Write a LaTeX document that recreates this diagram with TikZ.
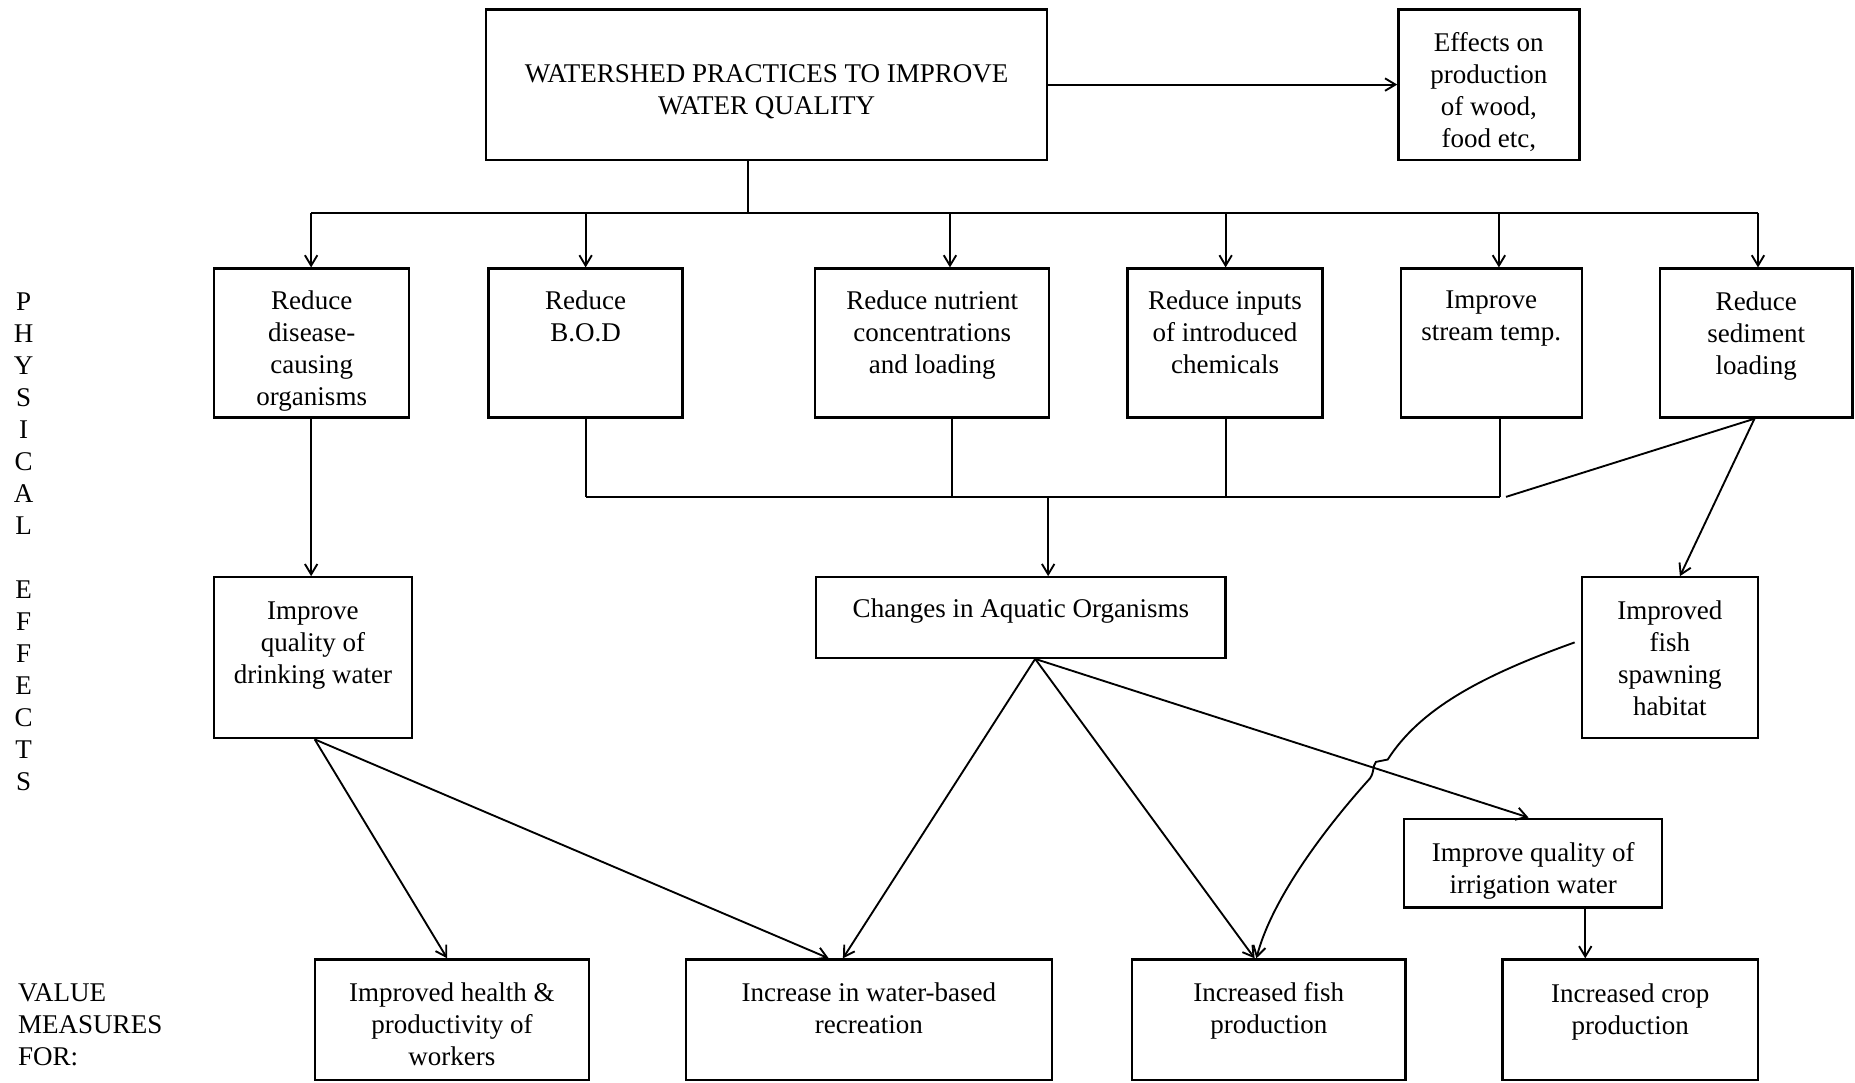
\documentclass[tikz,border=0pt]{standalone}
\usepackage{fontspec}
\setmainfont{Liberation Serif}
\usetikzlibrary{arrows.meta}
\begin{document}
\begin{tikzpicture}[x=0.02cm,y=-0.02cm,
  every node/.style={font=\fontsize{13pt}{15.4pt}\selectfont},
  box/.style={draw, line width=1.1pt, inner sep=0pt},
  txt/.style={anchor=north, inner sep=0pt, align=center},
  link/.style={line width=0.9pt},
  arr/.style={link, -{Straight Barb[length=5pt,width=6pt]}}]
\fill[white] (0,0) rectangle (1568,915);
\useasboundingbox (0,0) rectangle (1568,915);

% ---- top row
\node[box, minimum width=9.48cm, minimum height=2.54cm] (top) at (648,71.5) {};
\node[txt, anchor=center] (topT) at ([yshift=-0.12cm]top.center) {WATERSHED PRACTICES TO IMPROVE\\WATER QUALITY};
\node[box, minimum width=3.06cm, minimum height=2.54cm] (eff) at (1258.5,71.5) {};
\node[txt] (effT) at ([yshift=-0.40cm]eff.north) {Effects on\\production\\of wood,\\food etc,};

% ---- physical practices
\node[box, minimum width=3.30cm, minimum height=2.52cm] (b1) at (263.5,290) {};
\node[box, minimum width=3.28cm, minimum height=2.52cm] (b2) at (495,290) {};
\node[box, minimum width=3.96cm, minimum height=2.52cm] (b3) at (788,290) {};
\node[box, minimum width=3.30cm, minimum height=2.52cm] (b4) at (1035.5,290) {};
\node[box, minimum width=3.06cm, minimum height=2.52cm] (b5) at (1260.5,290) {};
\node[box, minimum width=3.26cm, minimum height=2.52cm] (b6) at (1484.5,290) {};
\node[txt] (b1T) at ([yshift=-0.38cm]b1.north) {Reduce\\disease-\\causing\\organisms};
\node[txt] (b2T) at ([yshift=-0.38cm]b2.north) {Reduce\\B.O.D};
\node[txt] (b3T) at ([yshift=-0.38cm]b3.north) {Reduce nutrient\\concentrations\\and loading};
\node[txt] (b4T) at ([yshift=-0.38cm]b4.north) {Reduce inputs\\of introduced\\chemicals};
\node[txt] (b5T) at ([yshift=-0.38cm]b5.north) {Improve\\stream temp.};
\node[txt] (b6T) at ([yshift=-0.40cm]b6.north) {Reduce\\sediment\\loading};

% ---- effects
\node[box, minimum width=3.34cm, minimum height=2.72cm] (drink) at (264.5,556) {};
\node[txt] (drinkT) at ([yshift=-0.42cm]drink.north) {Improve\\quality of\\drinking water};
\node[box, minimum width=6.92cm, minimum height=1.36cm] (chg) at (863,522) {};
\node[txt] (chgT) at ([yshift=-0.38cm]chg.north) {Changes in Aquatic Organisms};
\node[box, minimum width=2.98cm, minimum height=2.72cm] (spawn) at (1411.5,556) {};
\node[txt] (spawnT) at ([yshift=-0.40cm]spawn.north) {Improved\\fish\\spawning\\habitat};
\node[box, minimum width=4.36cm, minimum height=1.50cm] (irr) at (1296,729.5) {};
\node[txt] (irrT) at ([yshift=-0.42cm]irr.north) {Improve quality of\\irrigation water};

% ---- value measures
\node[box, minimum width=4.64cm, minimum height=2.04cm] (health) at (382,862) {};
\node[box, minimum width=6.18cm, minimum height=2.04cm] (recr) at (734.5,862) {};
\node[box, minimum width=4.62cm, minimum height=2.04cm] (fishp) at (1072.5,862) {};
\node[box, minimum width=4.32cm, minimum height=2.04cm] (crop) at (1378,862) {};
\node[txt] (healthT) at ([yshift=-0.40cm]health.north) {Improved health \&\\productivity of\\workers};
\node[txt] (recrT) at ([yshift=-0.40cm]recr.north) {Increase in water-based\\recreation};
\node[txt] (fishpT) at ([yshift=-0.40cm]fishp.north) {Increased fish\\production};
\node[txt] (cropT) at ([yshift=-0.42cm]crop.north) {Increased crop\\production};

% ---- side labels
\node[txt] (physT) at (20,247) {P\\H\\Y\\S\\I\\C\\A\\L\\[15.4pt]E\\F\\F\\E\\C\\T\\S};
\node[txt, anchor=north west, align=left] (valT) at (15,831) {VALUE\\MEASURES\\FOR:};

% ---- distribution bus below the practices box
\coordinate (busT) at (632,180);
\coordinate (t1) at (263,180);
\coordinate (t2) at (495,180);
\coordinate (t3) at (803,180);
\coordinate (t4) at (1036,180);
\coordinate (t5) at (1267,180);
\coordinate (t6) at (1486,180);
\draw[arr] (top.east) -- (eff.west);
\draw[link] (top.south -| busT) -- (busT);
\draw[link] (t1) -- (t6);
\foreach \t/\b in {t1/b1,t2/b2,t3/b3,t4/b4,t5/b5,t6/b6}
  \draw[arr] (\t) -- (\t |- \b.north);

% ---- collector under the practices
\coordinate (c2) at (495,420);
\coordinate (c3) at (805,420);
\coordinate (c4) at (1036,420);
\coordinate (c5) at (1268,420);
\coordinate (c6) at (1273,420);
\coordinate (cm) at (886,420);
\coordinate (b6o) at ([xshift=-0.03cm]b6.south);
\foreach \c/\b in {c2/b2,c3/b3,c4/b4,c5/b5}
  \draw[link] (\b.south -| \c) -- (\c);
\draw[link] (c2) -- (c5);
\draw[link] (c6) -- (b6o);
\draw[arr] (cm) -- (cm |- chg.north);
\draw[arr] (b6o) -- ([xshift=0.17cm]spawn.north);
\draw[arr] (b1.south -| t1) -- (t1 |- drink.north);

% ---- effects to value measures
\coordinate (ds) at ([xshift=0.03cm]drink.south);
\coordinate (cs) at ([xshift=0.24cm]chg.south);
\draw[arr] (ds) -- ([xshift=-0.08cm]health.north);
\draw[arr] (ds) -- ([xshift=-0.68cm]recr.north);
\draw[arr] (cs) -- ([xshift=-0.44cm]recr.north);
\draw[arr] (cs) -- ([xshift=-0.24cm]fishp.north);
\draw[arr] (cs) -- ([xshift=-0.08cm]irr.north);
\coordinate (ic) at (1340,767);
\draw[arr] (irr.south -| ic) -- (crop.north -| ic);

% ---- spawning habitat to fish production, hopping over the irrigation line
\coordinate (spout) at ([xshift=-0.10cm,yshift=0.26cm]spawn.west);
\coordinate (fpin) at ([xshift=-0.21cm]fishp.north);
\draw[arr] (spout) .. controls (1250,572) and (1200,600) .. (1173,642)
  -- (1163,644) .. controls (1160,648) and (1162,652) .. (1158,658)
  .. controls (1120,700) and (1075,760) .. (fpin);
\end{tikzpicture}
\end{document}
